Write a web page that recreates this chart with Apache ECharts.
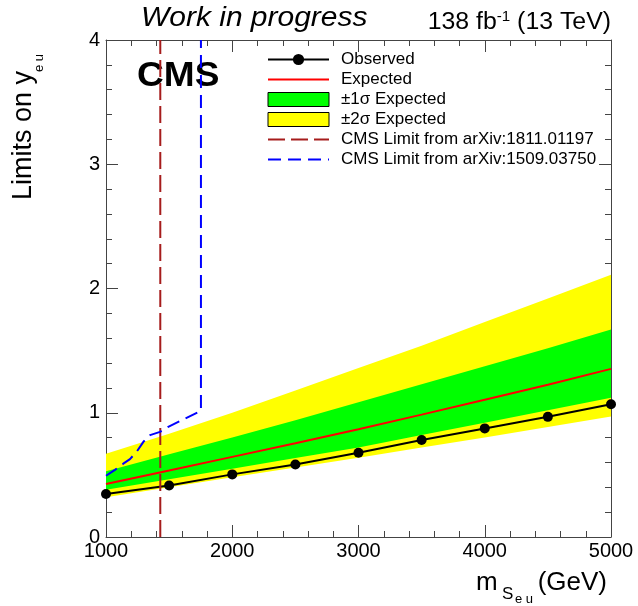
<!DOCTYPE html>
<html>
<head>
<meta charset="utf-8">
<script src="https://cdn.jsdelivr.net/npm/echarts@6/dist/echarts.min.js"></script>
<style>
  html, body { margin: 0; padding: 0; background: #fff; }
  #chart { width: 638px; height: 606px; }
</style>
</head>
<body>
<div id="chart"></div>
<script>
// 质量点 (GeV)
const masses = [1000, 1500, 2000, 2500, 3000, 3500, 4000, 4500, 5000];
// 观测 / 期望上限
const observed = [0.346, 0.415, 0.504, 0.584, 0.678, 0.78, 0.874, 0.967, 1.069];
const expected = [0.426, 0.535, 0.645, 0.755, 0.868, 0.985, 1.105, 1.225, 1.353];
// ±1σ / ±2σ 带
const sigma1Lo = [0.38, 0.465, 0.55, 0.635, 0.72, 0.82, 0.92, 1.02, 1.12];
const sigma1Hi = [0.53, 0.665, 0.8, 0.94, 1.085, 1.23, 1.375, 1.52, 1.67];
const sigma2Lo = [0.32, 0.40, 0.48, 0.56, 0.637, 0.72, 0.80, 0.885, 0.97];
const sigma2Hi = [0.67, 0.83, 1.0, 1.18, 1.36, 1.54, 1.73, 1.92, 2.11];
// 以前的 CMS 限制
const limit1811X = [1430, 1430];
const limit1811Y = [0, 4];
const limit1509X = [1000, 1071, 1137, 1190, 1243, 1296, 1349, 1428, 1493, 1752, 1752];
const limit1509Y = [0.493, 0.54, 0.59, 0.627, 0.686, 0.766, 0.82, 0.846, 0.887, 1.015, 4.0];
// 坐标轴刻度
const xTicks = [1000, 5000, 1000]; // min, max, interval
const yTicks = [0, 4, 1];

const FONT = '"Liberation Sans", Arial, Helvetica, sans-serif';
const pairs = (xs, ys) => xs.map((x, i) => [x, ys[i]]);

// 误差带：用 custom 系列画一个多边形（上边界正向 + 下边界反向）
function bandSeries(name, lo, hi, color) {
  return {
    name: name,
    type: 'custom',
    data: masses.map((m, i) => [m, lo[i], hi[i]]),
    encode: { x: 0, y: [1, 2] },
    z: 1,
    silent: true,
    itemStyle: { color: color },
    renderItem: function (params, api) {
      if (params.dataIndex !== 0) return null;
      const upper = masses.map((m, i) => api.coord([m, hi[i]]));
      const lower = masses.map((m, i) => api.coord([m, lo[i]])).reverse();
      return {
        type: 'polygon',
        shape: { points: upper.concat(lower) },
        style: { fill: color, stroke: null }
      };
    }
  };
}

const axisCommon = {
  axisLine: { show: true, onZero: false, lineStyle: { color: '#444', width: 1 } },
  axisTick: { show: true, inside: true, length: 12, lineStyle: { color: '#444' } },
  minorTick: { show: true, splitNumber: 5, length: 6, lineStyle: { color: '#444' } },
  splitLine: { show: false },
  minorSplitLine: { show: false }
};
const labelFmt = v => String(v);

const chart = echarts.init(document.getElementById('chart'));
chart.setOption({
  animation: false,
  backgroundColor: '#fff',
  grid: { left: 106, right: 27, top: 40, bottom: 69 },
  xAxis: [
    Object.assign({
      type: 'value', min: xTicks[0], max: xTicks[1], interval: xTicks[2], position: 'bottom',
      axisLabel: { color: '#000', fontSize: 20, fontFamily: FONT, margin: 4, formatter: labelFmt }
    }, axisCommon),
    Object.assign({
      type: 'value', min: xTicks[0], max: xTicks[1], interval: xTicks[2], position: 'top',
      axisLabel: { show: false }
    }, axisCommon)
  ],
  yAxis: [
    Object.assign({
      type: 'value', min: yTicks[0], max: yTicks[1], interval: yTicks[2], position: 'left',
      axisLabel: { color: '#000', fontSize: 20, fontFamily: FONT, margin: 6, formatter: labelFmt }
    }, axisCommon),
    Object.assign({
      type: 'value', min: yTicks[0], max: yTicks[1], interval: yTicks[2], position: 'right',
      axisLabel: { show: false }
    }, axisCommon)
  ],
  legend: {
    orient: 'vertical',
    left: 267,
    top: 51,
    itemWidth: 61,
    itemHeight: 14,
    itemGap: 3,
    padding: 0,
    selectedMode: false,
    textStyle: { color: '#000', fontSize: 17, lineHeight: 14, fontFamily: FONT, padding: [0, 0, 0, 7] },
    data: [
      { name: 'Observed' },
      { name: 'Expected', itemStyle: { opacity: 0 } },
      { name: '±1σ Expected', icon: 'rect', itemStyle: { color: '#00ff00', borderColor: '#000', borderWidth: 1 } },
      { name: '±2σ Expected', icon: 'rect', itemStyle: { color: '#ffff00', borderColor: '#000', borderWidth: 1 } },
      { name: 'CMS Limit from arXiv:1811.01197', itemStyle: { opacity: 0 } },
      { name: 'CMS Limit from arXiv:1509.03750', itemStyle: { opacity: 0 } }
    ]
  },
  graphic: [
    {
      type: 'text', x: 141, y: 18, scaleX: 1.07,
      style: { text: 'Work in progress', font: 'italic 28px ' + FONT, fill: '#000', verticalAlign: 'middle' }
    },
    {
      type: 'text', x: 611, y: 23, scaleX: 1.08,
      style: {
        text: '{a|138 fb}{s|-1}{a| (13 TeV)}',
        align: 'right', verticalAlign: 'middle', fill: '#000',
        rich: {
          a: { fontSize: 23, fontFamily: FONT, lineHeight: 26 },
          s: { fontSize: 14, fontFamily: FONT, lineHeight: 14, verticalAlign: 'top' }
        }
      }
    },
    {
      type: 'text', x: 137, y: 76, scaleX: 1.06,
      style: { text: 'CMS', font: 'bold 35px ' + FONT, fill: '#000', verticalAlign: 'middle' }
    },
    {
      // y 轴标题（旋转 90°）
      type: 'group', x: 33, y: 200, rotation: Math.PI / 2,
      children: [
        { type: 'text', x: 0, y: -9, style: { text: 'Limits on y', font: '27px ' + FONT, fill: '#000', verticalAlign: 'middle' } },
        { type: 'text', x: 128, y: 6, style: { text: 'e u', font: '13px ' + FONT, fill: '#000', verticalAlign: 'middle' } }
      ]
    },
    {
      // x 轴标题
      type: 'group', x: 0, y: 0,
      children: [
        { type: 'text', x: 476, y: 583, style: { text: 'm', font: '26px ' + FONT, fill: '#000', verticalAlign: 'middle' } },
        { type: 'text', x: 502, y: 594, style: { text: 'S', font: '17px ' + FONT, fill: '#000', verticalAlign: 'middle' } },
        { type: 'text', x: 515, y: 599, style: { text: 'e u', font: '13px ' + FONT, fill: '#000', verticalAlign: 'middle' } },
        { type: 'text', x: 607, y: 583, style: { text: '(GeV)', font: '26px ' + FONT, fill: '#000', align: 'right', verticalAlign: 'middle' } }
      ]
    }
  ],
  series: [
    bandSeries('±2σ Expected', sigma2Lo, sigma2Hi, '#ffff00'),
    bandSeries('±1σ Expected', sigma1Lo, sigma1Hi, '#00ff00'),
    {
      name: 'Expected', type: 'line', data: pairs(masses, expected),
      symbol: 'none', lineStyle: { color: '#ff0000', width: 2 }, itemStyle: { color: '#ff0000' }, z: 3
    },
    {
      name: 'Observed', type: 'line', data: pairs(masses, observed),
      symbol: 'circle', symbolSize: 10,
      lineStyle: { color: '#000', width: 2 }, itemStyle: { color: '#000' }, z: 4
    },
    {
      name: 'CMS Limit from arXiv:1811.01197', type: 'line', data: pairs(limit1811X, limit1811Y),
      symbol: 'none', lineStyle: { color: '#a61c1c', width: 2, type: [17, 6] }, itemStyle: { color: '#a61c1c' }, z: 5
    },
    {
      name: 'CMS Limit from arXiv:1509.03750', type: 'line', data: pairs(limit1509X, limit1509Y),
      symbol: 'none', lineStyle: { color: '#0000ff', width: 2, type: [13, 7] }, itemStyle: { color: '#0000ff' }, z: 5
    }
  ]
});
</script>
</body>
</html>
